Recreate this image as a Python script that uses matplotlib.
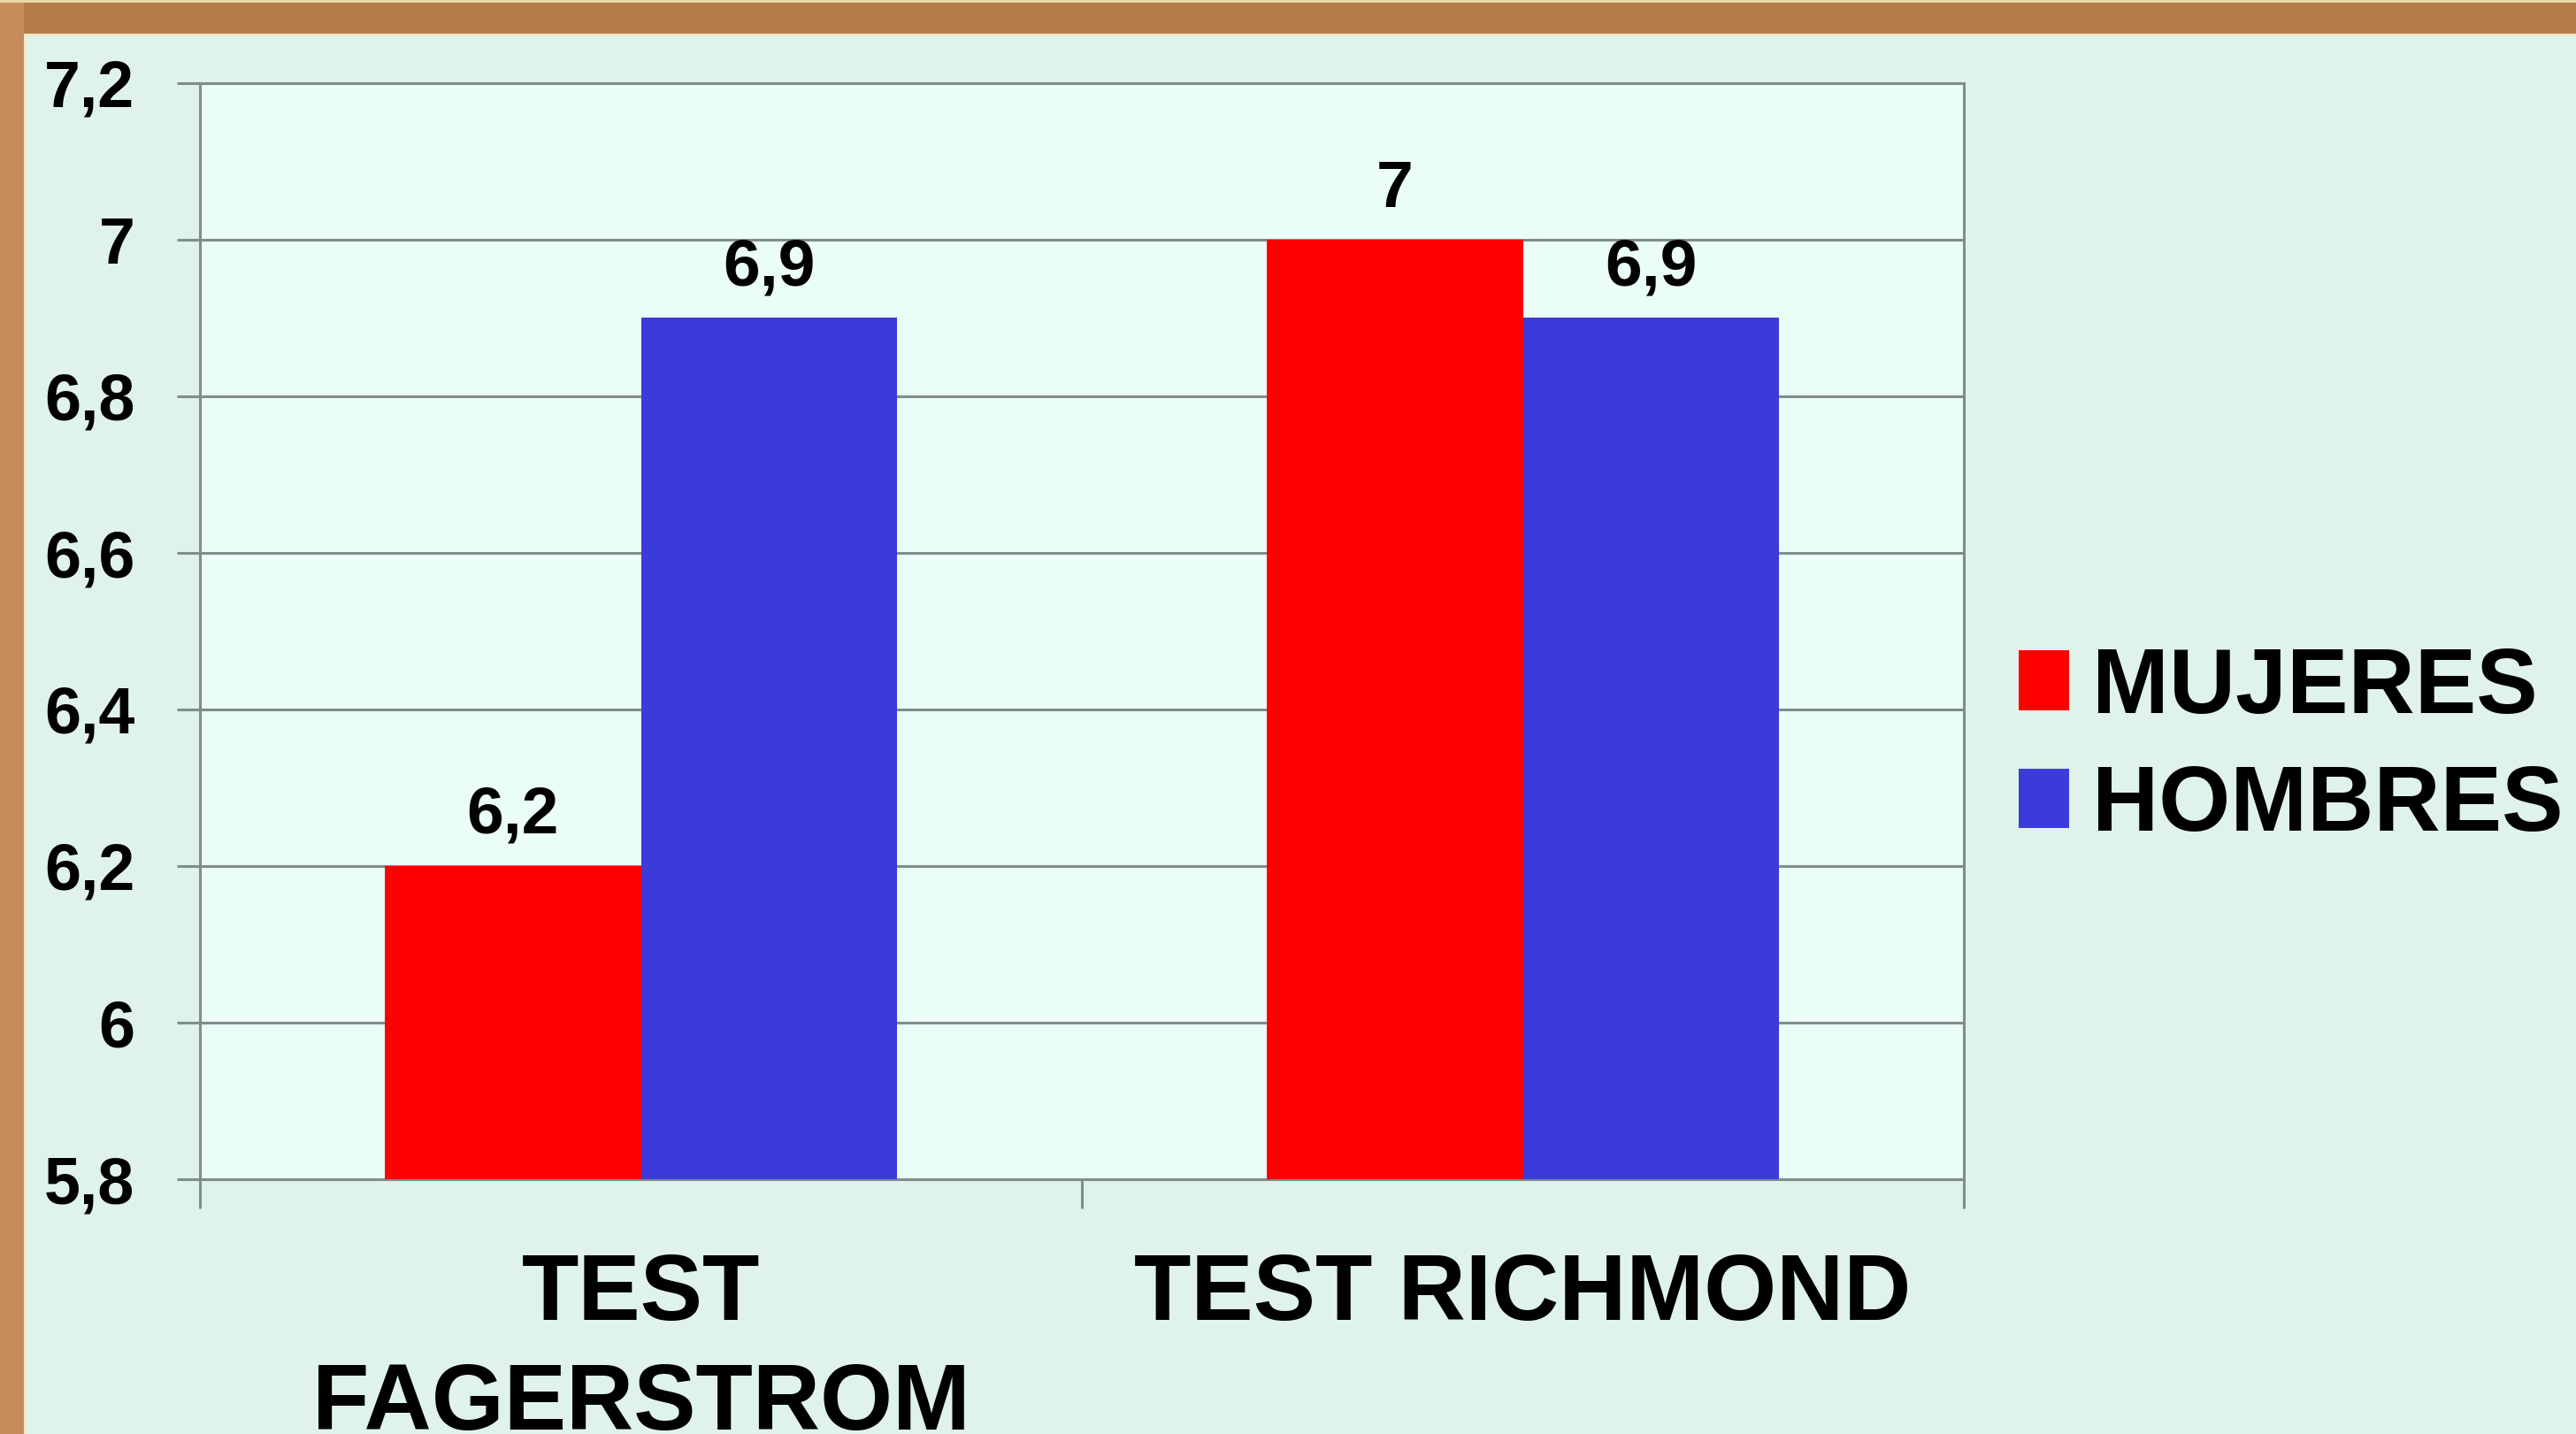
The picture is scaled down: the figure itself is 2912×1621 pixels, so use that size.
import matplotlib
matplotlib.use("Agg")
import matplotlib.pyplot as plt
from matplotlib.patches import Rectangle
import numpy as np

categories = ["TEST\nFAGERSTROM", "TEST RICHMOND"]
series_names = ["MUJERES", "HOMBRES"]
mujeres = [6.2, 7.0]
hombres = [6.9, 6.9]
value_labels_m = ["6,2", "7"]
value_labels_h = ["6,9", "6,9"]
yticks = [5.8, 6.0, 6.2, 6.4, 6.6, 6.8, 7.0, 7.2]
ytick_labels = ["5,8", "6", "6,2", "6,4", "6,6", "6,8", "7", "7,2"]

RED = "#FE0000"
BLUE = "#3B3BDA"
FIG_BG = "#DFF3EA"
AX_BG = "#EAFDF7"
GRID = "#7E8E8A"

plt.rcParams['font.family'] = ['Liberation Sans', 'DejaVu Sans']
plt.rcParams['font.weight'] = 'bold'

W, H = 2912, 1621
fig = plt.figure(figsize=(W / 100, H / 100), dpi=100, facecolor=FIG_BG)

# cork border (top and left)
fig.patches.append(Rectangle((0, 1 - 38 / H), 1, 38 / H, transform=fig.transFigure,
                             facecolor="#B47B4A", edgecolor="none", zorder=0))
fig.patches.append(Rectangle((0, 0), 27 / W, 1, transform=fig.transFigure,
                             facecolor="#C68C5A", edgecolor="none", zorder=0))
fig.patches.append(Rectangle((27 / W, 0), 3 / W, 1 - 38 / H, transform=fig.transFigure,
                             facecolor="#F3E7C6", edgecolor="none", zorder=0))
fig.patches.append(Rectangle((27 / W, 1 - 41 / H), 1, 3 / H, transform=fig.transFigure,
                             facecolor="#F3E7C6", edgecolor="none", zorder=0))
fig.patches.append(Rectangle((0, 1 - 3 / H), 1, 3 / H, transform=fig.transFigure,
                             facecolor="#EAD8A8", edgecolor="none", zorder=0))

left, right = 226 / W, 2220 / W
bottom, top = 1 - 1333 / H, 1 - 94 / H
ax = fig.add_axes([left, bottom, right - left, top - bottom], facecolor=AX_BG)

x = np.arange(len(categories))
bw = 0.29
b1 = ax.bar(x - bw / 2, mujeres, bw, color=RED, label=series_names[0], zorder=3)
b2 = ax.bar(x + bw / 2, hombres, bw, color=BLUE, label=series_names[1], zorder=3)

for rect, lab in zip(b1, value_labels_m):
    ax.annotate(lab, (rect.get_x() + rect.get_width() / 2, rect.get_height()),
                xytext=(0, 16), textcoords="offset points", ha="center", va="bottom",
                fontsize=54, fontweight="bold", color="black")
for rect, lab in zip(b2, value_labels_h):
    ax.annotate(lab, (rect.get_x() + rect.get_width() / 2, rect.get_height()),
                xytext=(0, 16), textcoords="offset points", ha="center", va="bottom",
                fontsize=54, fontweight="bold", color="black")

ax.set_ylim(5.8, 7.2)
ax.set_xlim(-0.5, 1.5)
ax.set_yticks(yticks)
ax.set_yticklabels(ytick_labels, fontsize=53, fontweight="bold")
ax.tick_params(axis="y", length=19, width=2.2, color=GRID, pad=34)
ax.yaxis.grid(True, color=GRID, linewidth=2.2, zorder=1)
ax.set_axisbelow(True)

ax.set_xticks(x)
ax.set_xticklabels(categories, fontsize=76, fontweight="bold", linespacing=1.32)
ax.tick_params(axis="x", which="major", length=0, pad=59)
ax.set_xticks([-0.5, 0.5, 1.5], minor=True)
ax.tick_params(axis="x", which="minor", length=24, width=2.2, color=GRID)
for lbl in ax.get_xticklabels():
    lbl.set_verticalalignment("top")

for s in ax.spines.values():
    s.set_color(GRID)
    s.set_linewidth(2.2)

leg = fig.legend(handles=[b1, b2], labels=series_names, loc="center left",
                 bbox_to_anchor=(2282 / W, 1 - 846 / H), frameon=False,
                 prop={"size": 75, "weight": "bold"}, handlelength=0.55,
                 handleheight=0.62, handletextpad=0.25, labelspacing=0.35,
                 borderpad=0, borderaxespad=0)

fig.savefig("out.png", dpi=100, facecolor=FIG_BG)
